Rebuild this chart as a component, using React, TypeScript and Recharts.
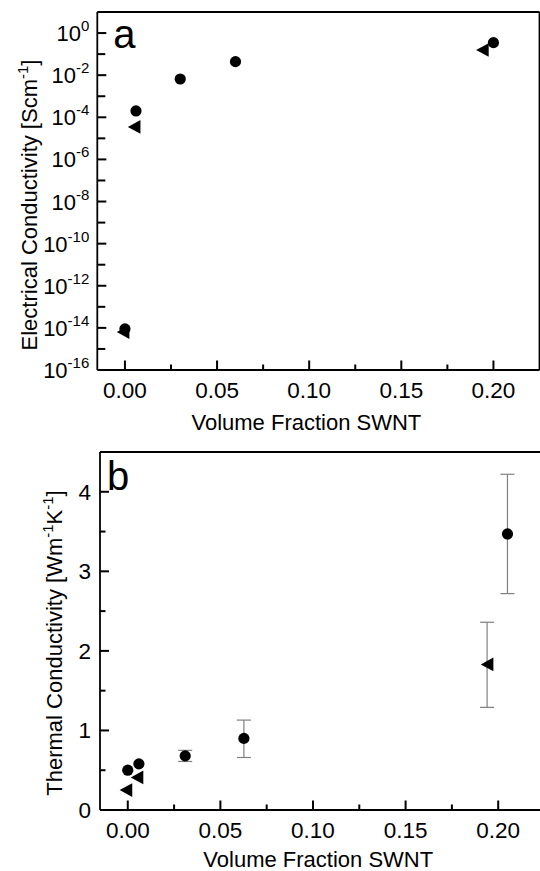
import React from 'react';
import { ScatterChart, Scatter, XAxis, YAxis, ErrorBar, Label } from 'recharts';

const FONT = '"Liberation Sans", Arial, Helvetica, sans-serif';

// ---- shared x axis ----
const xDomain = [-0.015, 0.225];
const xMajorTicks = [0, 0.05, 0.1, 0.15, 0.2];
const xAllTicks = [0, 0.025, 0.05, 0.075, 0.1, 0.125, 0.15, 0.175, 0.2];
const xTitle = 'Volume Fraction SWNT';

// ---- panel a: electrical conductivity (log) ----
const elecDomain = [1e-16, 1e1];
const elecTickExponents = [-16, -15, -14, -13, -12, -11, -10, -9, -8, -7, -6, -5, -4, -3, -2, -1, 0];
const elecLabelExponents = [-16, -14, -12, -10, -8, -6, -4, -2, 0];
const elecCircleX = [0, 0.006, 0.03, 0.06, 0.2];
const elecCircleY = [9e-15, 2.0e-4, 6.6e-3, 4.4e-2, 0.35];
const elecTriX = [-0.001, 0.005, 0.194];
const elecTriY = [6.3e-15, 3.5e-5, 0.158];

// ---- panel b: thermal conductivity ----
const thermDomain = [0, 4.5];
const thermTicks = [0, 0.5, 1, 1.5, 2, 2.5, 3, 3.5, 4];
const thermLabelTicks = [0, 1, 2, 3, 4];
const thermCircleX = [0, 0.006, 0.031, 0.0627, 0.205];
const thermCircleY = [0.5, 0.58, 0.68, 0.9, 3.47];
const thermCircleErrLow = [null, null, 0.07, 0.24, 0.75];
const thermCircleErrHigh = [null, null, 0.07, 0.23, 0.75];
const thermTriX = [-0.001, 0.005, 0.194];
const thermTriY = [0.25, 0.41, 1.83];
const thermTriErrLow = [null, null, 0.54];
const thermTriErrHigh = [null, null, 0.53];

const near = (a: number, b: number) => Math.abs(a - b) < 1e-9;

const toPoints = (xs: number[], ys: number[], lo?: (number | null)[], hi?: (number | null)[]) =>
  xs.map((x, i) => ({
    x,
    y: ys[i],
    err: lo && hi && lo[i] != null && hi[i] != null ? [lo[i], hi[i]] : undefined,
  }));

const elecCircles = toPoints(elecCircleX, elecCircleY);
const elecTris = toPoints(elecTriX, elecTriY);
const thermCircles = toPoints(thermCircleX, thermCircleY, thermCircleErrLow, thermCircleErrHigh);
const thermTris = toPoints(thermTriX, thermTriY, thermTriErrLow, thermTriErrHigh);

// inward tick marks, placed through the chart's own scales
const xTickMarks = (yAtAxis: number) =>
  xAllTicks.map((v) => ({ x: v, y: yAtAxis, major: xMajorTicks.some((m) => near(m, v)) }));
const elecXTickMarks = xTickMarks(elecDomain[0]);
const thermXTickMarks = xTickMarks(thermDomain[0]);
const elecYTickMarks = elecTickExponents.map((e) => ({
  x: xDomain[0],
  y: Math.pow(10, e),
  major: elecLabelExponents.includes(e),
}));
const thermYTickMarks = thermTicks.map((v) => ({
  x: xDomain[0],
  y: v,
  major: thermLabelTicks.some((m) => near(m, v)),
}));

const TICK_W = 2;
const isMajor = (p: any) => Boolean(p.payload ? p.payload.major : p.major);

const XTickMark = (p: any) => {
  const len = isMajor(p) ? 9.5 : 5.5;
  return <rect x={p.cx - TICK_W / 2} y={p.cy - len} width={TICK_W} height={len} fill="#000" />;
};
const LogYTickMark = (p: any) => {
  const len = isMajor(p) ? 9 : 8;
  return <rect x={p.cx} y={p.cy - TICK_W / 2} width={len} height={TICK_W} fill="#000" />;
};
const LinYTickMark = (p: any) => {
  const len = isMajor(p) ? 9 : 5.5;
  return <rect x={p.cx} y={p.cy - TICK_W / 2} width={len} height={TICK_W} fill="#000" />;
};

const CircleShape = (p: any) => <circle cx={p.cx} cy={p.cy} r={5.6} fill="#000" />;
const TriShape = (p: any) => (
  <polygon
    points={`${p.cx - 6.3},${p.cy} ${p.cx + 6.3},${p.cy - 6.8} ${p.cx + 6.3},${p.cy + 6.8}`}
    fill="#000"
  />
);

// tick labels (tickSize = 0, tickMargin = 0 -> (x, y) is the point on the axis line)
const XTick = (props: any) => {
  const { x, y, payload } = props;
  const v = payload.value as number;
  if (!xMajorTicks.some((m) => near(m, v))) return <g />;
  return (
    <text x={x} y={y + 28} textAnchor="middle" fontSize={22.5} fontFamily={FONT} fill="#000" stroke="none">
      {v.toFixed(2)}
    </text>
  );
};

const LogYTick = (props: any) => {
  const { x, y, payload } = props;
  const e = Math.round(Math.log10(payload.value));
  if (!elecLabelExponents.includes(e)) return <g />;
  return (
    <text x={x - 8} y={y + 8} textAnchor="end" fontFamily={FONT} fill="#000" stroke="none">
      <tspan fontSize={22}>10</tspan>
      <tspan fontSize={15} dy={-10}>
        {String(e)}
      </tspan>
    </text>
  );
};

const LinYTick = (props: any) => {
  const { x, y, payload } = props;
  const v = payload.value as number;
  if (!thermLabelTicks.some((m) => near(m, v))) return <g />;
  return (
    <text x={x - 9} y={y + 8} textAnchor="end" fontSize={22.5} fontFamily={FONT} fill="#000" stroke="none">
      {String(v)}
    </text>
  );
};

const axisLine = { stroke: '#000', strokeWidth: 1.8 };

const XTitle = (centerOffset: number, dy: number) => (p: any) => {
  const vb = p.viewBox || {};
  return (
    <text
      x={vb.x + vb.width / 2 + centerOffset}
      y={vb.y + dy}
      textAnchor="middle"
      fontSize={22}
      fontFamily={FONT}
      fill="#000"
    >
      {xTitle}
    </text>
  );
};

const PanelLetter = (letter: string, dx: number, dy: number) => (p: any) => {
  const vb = p.viewBox || {};
  return (
    <text x={vb.x + dx} y={vb.y + dy} fontSize={40} fontFamily={FONT} fill="#000">
      {letter}
    </text>
  );
};

const ElecYTitle = (p: any) => {
  const vb = p.viewBox || {};
  const cx = 37;
  const cy = vb.y + vb.height / 2 + 14;
  return (
    <text
      x={cx}
      y={cy}
      transform={`rotate(-90, ${cx}, ${cy})`}
      textAnchor="middle"
      fontSize={22}
      fontFamily={FONT}
      fill="#000"
    >
      Electrical Conductivity [Scm
      <tspan fontSize={15} dy={-9}>
        -1
      </tspan>
      <tspan dy={9}>]</tspan>
    </text>
  );
};

const ThermYTitle = (p: any) => {
  const vb = p.viewBox || {};
  const cx = 62;
  const cy = vb.y + vb.height / 2 + 12;
  return (
    <text
      x={cx}
      y={cy}
      transform={`rotate(-90, ${cx}, ${cy})`}
      textAnchor="middle"
      fontSize={22}
      fontFamily={FONT}
      fill="#000"
    >
      Thermal Conductivity [Wm
      <tspan fontSize={15} dy={-9}>
        -1
      </tspan>
      <tspan dy={9}>K</tspan>
      <tspan fontSize={15} dy={-9}>
        -1
      </tspan>
      <tspan dy={9}>]</tspan>
    </text>
  );
};

export default function App() {
  return (
    <div
      style={{
        position: 'absolute',
        left: 0,
        top: 0,
        width: 540,
        height: 871,
        overflow: 'hidden',
        background: '#fff',
      }}
    >
      <div style={{ position: 'absolute', left: 0, top: 0 }}>
        <ScatterChart width={560} height={440} margin={{ top: 11, right: 19.5, left: 0, bottom: 0 }}>
          <XAxis
            dataKey="x"
            type="number"
            domain={xDomain}
            allowDataOverflow
            ticks={xAllTicks}
            interval={0}
            tickSize={0}
            tickMargin={0}
            tickLine={false}
            axisLine={axisLine}
            tick={<XTick />}
            height={70}
          >
            <Label content={XTitle(-12, 60)} />
          </XAxis>
          <XAxis
            xAxisId="top"
            orientation="top"
            type="number"
            domain={xDomain}
            allowDataOverflow
            ticks={xMajorTicks}
            tick={false}
            tickLine={false}
            axisLine={axisLine}
            height={1}
          >
            <Label content={PanelLetter('a', 16, 37)} />
          </XAxis>
          <YAxis
            dataKey="y"
            type="number"
            scale="log"
            domain={elecDomain}
            allowDataOverflow
            ticks={elecTickExponents.map((e) => Math.pow(10, e))}
            interval={0}
            tickSize={0}
            tickMargin={0}
            tickLine={false}
            axisLine={axisLine}
            tick={<LogYTick />}
            width={97.3}
          >
            <Label content={ElecYTitle} />
          </YAxis>
          <YAxis
            yAxisId="right"
            orientation="right"
            type="number"
            domain={[0, 1]}
            ticks={[0, 1]}
            tick={false}
            tickLine={false}
            axisLine={axisLine}
            width={1}
          />
          <Scatter data={elecXTickMarks} shape={XTickMark} isAnimationActive={false} />
          <Scatter data={elecYTickMarks} shape={LogYTickMark} isAnimationActive={false} />
          <Scatter data={elecCircles} shape={CircleShape} isAnimationActive={false} />
          <Scatter data={elecTris} shape={TriShape} isAnimationActive={false} />
        </ScatterChart>
      </div>
      <div style={{ position: 'absolute', left: 0, top: 440 }}>
        <ScatterChart width={560} height={431} margin={{ top: 11, right: 14.5, left: 0, bottom: 0 }}>
          <XAxis
            dataKey="x"
            type="number"
            domain={xDomain}
            allowDataOverflow
            ticks={xAllTicks}
            interval={0}
            tickSize={0}
            tickMargin={0}
            tickLine={false}
            axisLine={axisLine}
            tick={<XTick />}
            height={61}
          >
            <Label content={XTitle(-4, 57)} />
          </XAxis>
          <XAxis
            xAxisId="top"
            orientation="top"
            type="number"
            domain={xDomain}
            allowDataOverflow
            ticks={xMajorTicks}
            tick={false}
            tickLine={false}
            axisLine={axisLine}
            height={1}
          >
            <Label content={PanelLetter('b', 7, 39)} />
          </XAxis>
          <YAxis
            dataKey="y"
            type="number"
            domain={thermDomain}
            allowDataOverflow
            ticks={thermTicks}
            interval={0}
            tickSize={0}
            tickMargin={0}
            tickLine={false}
            axisLine={axisLine}
            tick={<LinYTick />}
            width={100}
          >
            <Label content={ThermYTitle} />
          </YAxis>
          <YAxis
            yAxisId="right"
            orientation="right"
            type="number"
            domain={[0, 1]}
            ticks={[0, 1]}
            tick={false}
            tickLine={false}
            axisLine={axisLine}
            width={1}
          />
          <Scatter data={thermXTickMarks} shape={XTickMark} isAnimationActive={false} />
          <Scatter data={thermYTickMarks} shape={LinYTickMark} isAnimationActive={false} />
          <Scatter data={thermCircles} shape={CircleShape} isAnimationActive={false}>
            <ErrorBar dataKey="err" direction="y" width={7} stroke="#808080" strokeWidth={1.2} />
          </Scatter>
          <Scatter data={thermTris} shape={TriShape} isAnimationActive={false}>
            <ErrorBar dataKey="err" direction="y" width={7} stroke="#808080" strokeWidth={1.2} />
          </Scatter>
        </ScatterChart>
      </div>
    </div>
  );
}
